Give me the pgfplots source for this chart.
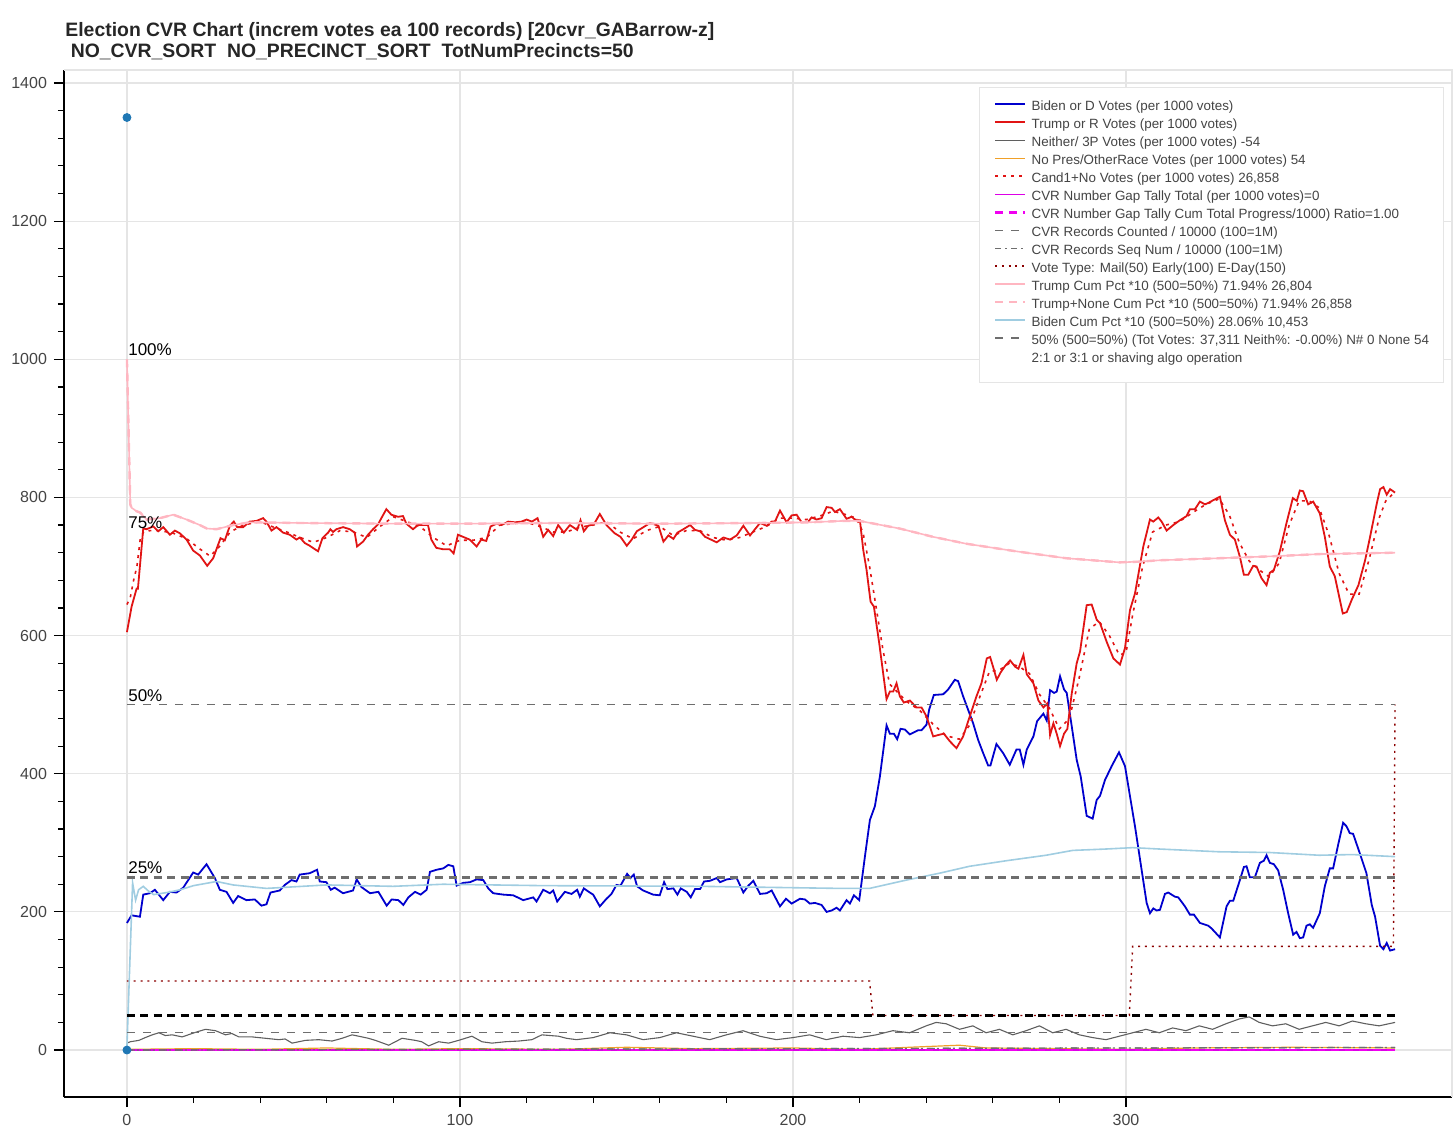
\documentclass[border=0pt]{standalone}
\usepackage{fontspec}
\setmainfont{Liberation Sans}
\usepackage{pgfplots}
\pgfplotsset{compat=1.18}
\definecolor{bidenblue}{RGB}{0,0,205}
\definecolor{trumpred}{RGB}{225,20,20}
\definecolor{cumpink}{RGB}{255,182,193}
\definecolor{cumblue}{RGB}{160,205,225}
\definecolor{neithergray}{RGB}{95,95,95}
\definecolor{norange}{RGB}{240,160,40}
\definecolor{gapmag}{RGB}{220,0,230}
\definecolor{gapmag2}{RGB}{240,0,240}
\definecolor{votered}{RGB}{139,0,0}
\definecolor{refgray}{RGB}{110,110,110}
\definecolor{gridgray}{RGB}{229,229,229}
\definecolor{labgray}{RGB}{68,68,68}
\definecolor{dotblue}{RGB}{31,119,180}
\begin{document}
\begin{tikzpicture}
\path[use as bounding box] (-32pt,-17pt) rectangle (696pt,548.5pt);
\begin{axis}[
 at={(0pt,0pt)}, anchor=south west,
 scale only axis, width=694pt, height=513.5pt,
 xmin=-18.9, xmax=397.9, ymin=-68, ymax=1418.8,
 axis x line*=bottom, axis y line*=left,
 xtick={0,100,200,300}, ytick={0,200,...,1400},
 minor x tick num=4, minor y tick num=4,
 tick align=outside, major tick length=5pt, minor tick length=3pt,
 xmajorgrids, ymajorgrids,
 major grid style={gridgray, line width=0.6pt},
 tick style={black, line width=0.6pt},
 axis line style={black, line width=0.7pt, -},
 ticklabel style={font=\fontsize{8}{9}\selectfont, text=labgray},
 /pgf/number format/assume math mode=true,
 /pgf/number format/1000 sep={},
 legend style={
  at={(axis description cs:0.99424,0.98345)}, anchor=north east,
  draw=gridgray, fill=white,
  font=\fontsize{6.7}{8}\selectfont, text=labgray,
  inner xsep=7.3pt, inner ysep=6.2pt,
  row sep=0pt, column sep=2.6pt,
  nodes={inner sep=0pt, text height=5.6pt, text depth=3.4pt},
 },
 legend cell align=left,
 legend image code/.code={\draw[#1] (0pt,2.3pt) -- (15pt,2.3pt);},
]
% 1 Biden
\addplot[bidenblue, line width=0.9pt] coordinates {
(0,184)(1.4,195)(3.9,193)(4.9,225)(6.9,227)(8.4,232)(10.9,217)(12.9,229)(14.9,228)(16.9,235)(19.9,257)(21.4,254)(23.9,269)(26.4,249)(27.9,232)(29.9,229)(31.9,213)(33.4,223)(35.9,217)(38.4,218)(40.4,209)(41.9,211)(43.1,228)(45.9,231)(47.4,239)(49.4,246)(50.9,244)(51.9,254)(54.9,256)(57.1,261)(57.9,244)(59.9,243)(61.2,232)(62.4,235)(64.9,227)(67.9,231)(69.0,247)(70.4,236)(73.0,227)(75.5,229)(78.0,209)(79.5,218)(81.5,217)(83.0,210)(84.5,221)(86.5,229)(88.2,225)(90.0,232)(91.0,258)(93.0,261)(95.0,263)(96.5,268)(98.0,266)(99.0,238)(101.0,242)(103.0,243)(105.0,247)(107.0,246)(108.5,234)(110.0,227)(113.0,225)(116.0,224)(119.0,217)(122.0,221)(123.0,215)(125.0,232)(127.0,227)(128.0,231)(129.2,215)(131.5,229)(133.5,226)(135.2,232)(136.0,222)(137.2,234)(139.0,228)(140.0,225)(142.0,208)(144.0,219)(145.5,226)(147.0,239)(148.2,238)(150.2,255)(151.2,249)(152.2,254)(153.2,237)(155.0,231)(156.5,228)(158.0,225)(160.0,224)(161.3,243)(162.3,233)(164.1,234)(165.3,225)(166.3,234)(168.1,229)(169.3,221)(170.6,233)(172.1,233)(173.3,244)(175.1,245)(177.1,249)(178.1,243)(180.1,247)(183.1,249)(185.1,228)(186.6,238)(188.1,245)(190.1,226)(192.1,227)(193.6,231)(196.1,208)(197.9,219)(199.6,212)(202.1,219)(203.6,218)(205.1,212)(206.6,213)(208.6,210)(210.1,200)(211.6,202)(213.1,206)(214.1,202)(216.1,217)(217.1,212)(218.3,224)(219.9,217)(221.6,280)(223.1,333)(224.6,353)(226.1,396)(228.1,470)(229.1,458)(230.3,458)(231.3,450)(232.3,465)(233.6,464)(235.1,457)(237.6,463)(238.6,463)(240.1,471)(240.9,493)(242.3,514)(245.1,515)(246.6,522)(248.6,536)(249.6,534)(251.1,512)(254.1,473)(255.6,449)(257.1,430)(258.6,412)(259.3,412)(261.1,443)(263.1,430)(265.1,413)(267.1,435)(268.1,435)(269.2,413)(270.2,435)(272.2,454)(273.3,476)(275.2,487)(276.2,477)(277.2,521)(278.4,517)(279.2,519)(280.2,541)(281.4,522)(282.2,517)(283.7,469)(285.2,420)(286.4,396)(288.2,339)(290.0,335)(291.2,362)(292.2,368)(293.7,391)(295.7,411)(297.9,431)(299.7,411)(302.7,324)(306.2,213)(307.2,198)(308.2,205)(309.2,202)(310.2,203)(311.7,226)(312.7,228)(314.7,222)(315.7,221)(317.7,208)(319.2,196)(320.4,196)(322.2,184)(324.7,180)(325.7,176)(328.2,163)(330.2,208)(331.2,216)(332.2,216)(334.2,246)(335.4,265)(336.2,266)(337.2,250)(338.7,250)(340.2,271)(341.4,274)(342.2,282)(343.2,271)(344.4,269)(345.7,260)(347.2,232)(348.7,198)(350.2,167)(351.2,171)(352.2,162)(353.2,163)(354.2,180)(355.2,182)(356.2,177)(358.2,198)(359.7,237)(361.2,263)(362.2,263)(363.7,297)(365.2,329)(366.2,324)(367.2,314)(368.2,313)(370.2,285)(372.2,256)(373.8,210)(374.8,193)(376.3,151)(377.3,146)(378.3,155)(379.3,144)(380.8,146)
};
\addlegendentry{Biden or D Votes (per 1000 votes)}
% 2 Trump
\addplot[trumpred, line width=0.9pt] coordinates {
(0,605)(1.4,642)(2.9,668)(3.3,668)(4.9,755)(5.9,754)(7.9,758)(9.4,751)(10.9,757)(12.9,746)(14.4,752)(15.9,748)(17.9,739)(19.9,723)(21.9,716)(24.1,701)(25.9,712)(28.1,741)(29.4,738)(30.9,759)(32.1,765)(33.1,757)(34.9,757)(36.9,765)(38.9,766)(40.9,770)(41.9,765)(43.4,752)(44.9,757)(46.9,749)(48.9,746)(50.9,739)(51.9,742)(53.4,734)(54.9,730)(57.4,722)(58.7,741)(60.4,749)(61.1,754)(61.9,750)(62.9,754)(64.9,757)(66.9,754)(68.4,749)(69.1,729)(70.9,736)(72.4,746)(73.9,754)(75.4,761)(76.4,770)(77.9,783)(79.4,775)(81.4,772)(82.9,773)(83.9,762)(85.9,754)(87.4,760)(88.9,760)(90.4,760)(91.4,739)(92.9,727)(94.9,725)(96.9,725)(98.1,719)(99.4,746)(100.9,743)(102.9,739)(105.0,729)(106.4,739)(107.9,737)(109.2,758)(111.0,762)(112.5,760)(114.5,765)(116.5,764)(118.5,765)(120.0,768)(121.6,765)(123.3,770)(125.0,743)(126.5,753)(128.0,744)(129.5,760)(131.2,749)(133.0,760)(135.2,753)(136.2,767)(137.2,751)(138.5,759)(140.2,761)(142.0,776)(144.0,760)(146.5,748)(148.2,743)(150.1,730)(151.6,739)(153.1,751)(155.1,757)(157.1,763)(159.6,759)(161.1,736)(162.6,745)(164.1,740)(165.3,749)(167.1,754)(169.1,760)(170.6,753)(172.1,751)(173.6,743)(177.1,735)(179.1,742)(181.1,739)(183.1,745)(185.1,759)(187.1,745)(188.1,751)(190.1,763)(192.1,759)(193.6,765)(194.6,765)(196.1,781)(198.1,764)(199.6,774)(201.1,775)(202.6,764)(204.6,765)(205.6,771)(207.1,768)(208.6,770)(210.1,786)(211.6,785)(212.6,779)(214.1,783)(216.1,769)(217.6,772)(218.6,768)(220.1,767)(221.1,724)(222.1,695)(223.3,649)(224.3,642)(225.9,589)(228.1,508)(229.1,519)(230.1,519)(231.1,531)(232.1,512)(233.3,503)(235.1,506)(237.1,496)(238.6,496)(240.1,483)(242.1,454)(243.6,456)(245.3,458)(247.1,447)(249.1,437)(251.1,454)(253.1,483)(255.1,512)(256.6,531)(258.2,567)(259.2,569)(260.2,553)(261.2,536)(262.4,547)(263.7,556)(265.2,564)(266.7,555)(267.7,552)(269.2,572)(270.2,544)(272.2,531)(273.7,506)(275.2,496)(276.4,502)(277.2,456)(278.2,473)(279.2,458)(280.2,440)(281.4,458)(282.4,465)(283.7,516)(285.2,560)(286.2,577)(288.2,644)(289.7,645)(291.2,623)(292.2,618)(294.2,591)(296.2,567)(298.2,558)(299.7,582)(301.2,637)(302.7,661)(305.2,729)(307.2,768)(308.2,765)(309.7,771)(310.7,765)(312.2,752)(314.2,760)(316.2,767)(318.2,773)(319.2,783)(320.7,783)(322.2,794)(323.7,790)(324.7,792)(326.2,796)(328.2,801)(329.7,767)(331.2,746)(332.7,739)(334.2,714)(335.4,688)(336.7,688)(338.2,701)(339.2,700)(340.7,683)(342.2,673)(343.2,691)(344.4,695)(346.2,722)(348.2,763)(350.1,799)(351.3,795)(352.2,810)(353.2,809)(354.7,790)(356.2,794)(358.2,777)(359.7,743)(361.2,700)(362.7,686)(365.1,632)(366.3,634)(367.8,652)(369.8,673)(371.8,709)(373.3,743)(375.3,791)(376.3,812)(377.3,815)(378.3,804)(379.3,812)(380.8,807)
};
\addlegendentry{Trump or R Votes (per 1000 votes)}
% 3 Neither
\addplot[neithergray, line width=0.55pt] coordinates {
(0,10)(1,12)(3.6,14)(5.5,18)(7.6,22)(9.6,25)(11.5,21)(13.6,22)(16.6,19)(19.6,24)(21.5,27)(23.6,30)(26.6,28)(29.6,22)(31.5,24)(33.6,19)(37.6,19)(41.6,17)(45.6,15)(47.5,16)(49.6,10)(53.6,14)(57.6,15)(61.6,13)(64.6,17)(67.6,22)(70.6,19)(72.5,17)(74.6,14)(78.6,7)(82.6,17)(86.6,14)(88.5,12)(90.6,6)(93.6,12)(96.6,10)(99.6,14)(103.6,20)(106.6,12)(109.6,10)(113.6,12)(117.6,13)(121.6,15)(124.6,22)(129.6,20)(132,17)(135,15)(140,18)(145,25)(150,22)(155,15)(160,18)(165,25)(170,20)(175,15)(180,22)(185,28)(190,20)(195,15)(200,18)(205,22)(210,15)(215,20)(220,18)(225,22)(230,28)(235,25)(240,35)(243,40)(246,38)(250,30)(254,35)(258,25)(262,30)(266,22)(270,28)(274,35)(278,25)(282,30)(286,22)(290,18)(294,15)(298,20)(302,25)(306,30)(310,25)(314,32)(318,28)(322,35)(326,30)(330,38)(334,45)(337,48)(340,40)(344,35)(348,38)(352,30)(356,35)(360,40)(364,35)(368,42)(372,38)(376,35)(380.8,40)
};
\addlegendentry{Neither/ 3P Votes (per 1000 votes) -54}
% 4 No Pres
\addplot[norange, line width=0.6pt] coordinates {
(0,1)(20,2)(40,1)(60,3)(80,1)(100,2)(130,1)(150,4)(170,2)(200,3)(220,1)(240,5)(250,7)(258,3)(280,2)(300,1)(320,3)(350,4)(380.8,3)
};
\addlegendentry{No Pres/OtherRace Votes (per 1000 votes) 54}
% 5 Cand1+No
\addplot[trumpred, line width=0.8pt, dash pattern=on 1.5pt off 2.5pt] coordinates {
(0,645)(1,655)(2,680)(3,700)(4,740)(5,750)(7,752)(10,752)(14,748)(18,740)(22,725)(25,715)(28,730)(31,750)(35,760)(40,765)(44,757)(48,750)(52,742)(56,735)(60,742)(64,752)(68,750)(72,742)(76,758)(80,772)(84,765)(88,758)(92,742)(96,730)(100,738)(104,738)(108,742)(112,760)(116,762)(120,764)(124,758)(128,750)(132,750)(136,757)(140,760)(144,765)(148,750)(152,740)(156,752)(160,758)(164,745)(168,752)(172,752)(176,742)(180,738)(184,742)(188,750)(192,758)(196,770)(200,770)(204,768)(208,773)(212,780)(216,775)(219,770)(221,750)(223,700)(225,640)(227,580)(229,530)(231,520)(234,505)(238,492)(242,472)(246,455)(250,450)(253,470)(256,510)(259,548)(262,550)(265,560)(268,555)(271,545)(274,515)(277,495)(280,465)(283,480)(286,540)(289,610)(292,620)(295,600)(298,572)(300,575)(302,630)(305,700)(308,750)(312,760)(316,765)(320,778)(324,790)(328,798)(331,775)(334,735)(337,708)(340,695)(343,685)(346,705)(349,760)(352,795)(355,795)(358,785)(361,745)(364,690)(367,660)(370,660)(373,710)(376,770)(378,795)(380.8,808)
};
\addlegendentry{Cand1+No Votes (per 1000 votes) 26,858}
% 6 gap tally total
\addplot[gapmag, line width=0.6pt] coordinates {(0,0)(380.8,0)};
\addlegendentry{CVR Number Gap Tally Total (per 1000 votes)=0}
% 7 gap cum
\addplot[gapmag2, line width=1.4pt, dash pattern=on 4pt off 3pt] coordinates {(0,0)(100,0)(200,0)(300,0)(380.8,0)};
\addlegendentry{CVR Number Gap Tally Cum Total Progress/1000) Ratio=1.00}
% 8 records counted
\addplot[refgray, line width=0.6pt, dash pattern=on 4pt off 4pt] coordinates {(0,0)(100,1)(200,2)(300,3)(380.8,3.7)};
\addlegendentry{CVR Records Counted / 10000 (100=1M)}
% 9 seq num
\addplot[refgray, line width=0.6pt, dash pattern=on 3pt off 2pt on 1pt off 2pt] coordinates {(0,0)(100,1)(200,2)(300,3)(380.8,3.7)};
\addlegendentry{CVR Records Seq Num / 10000 (100=1M)}
% 10 vote type
\addplot[votered, line width=0.7pt, dash pattern=on 1pt off 2.4pt] coordinates {(0,100)(223,100)(224,50)(301,50)(302,150)(380.3,150)(380.8,500)};
\addlegendentry{Vote Type: Mail(50) Early(100) E-Day(150)}
% 11 Trump cum
\addplot[cumpink, line width=0.8pt] coordinates {
(0,1000)(1,790)(1.4,785)(2.9,780)(4,778)(5.9,768)(9.9,770)(13.9,775)(17.9,768)(21.9,760)(24,755)(26.9,754)(31.9,760)(36.9,764)(51.9,763)(80,762)(102,762)(130,763)(160,762)(190,763)(205,764)(215,766)(220,766)(232,755)(242,743)(252,733)(267,722)(282,712)(290,709)(298,706)(304,707)(310,709)(328,712)(345,715)(358,718)(380.8,720)
};
\addlegendentry{Trump Cum Pct *10 (500=50\%) 71.94\% 26,804}
% 12 Trump+None cum
\addplot[cumpink, line width=1.2pt, dash pattern=on 4pt off 3pt] coordinates {
(0,1000)(1,790)(1.4,785)(2.9,780)(4,778)(5.9,768)(9.9,770)(13.9,775)(17.9,768)(21.9,760)(24,755)(26.9,754)(31.9,760)(36.9,764)(51.9,763)(80,762)(102,762)(130,763)(160,762)(190,763)(205,764)(215,766)(220,766)(232,755)(242,743)(252,733)(267,722)(282,712)(290,709)(298,706)(304,707)(310,709)(328,712)(345,715)(358,718)(380.8,720)
};
\addlegendentry{Trump+None Cum Pct *10 (500=50\%) 71.94\% 26,858}
% 13 Biden cum
\addplot[cumblue, line width=0.8pt] coordinates {
(0,5)(1.7,242)(2.6,217)(3.5,232)(4.9,237)(6.5,230)(8,225)(12,228)(16,232)(20,238)(26.9,244)(31.9,239)(41.9,234)(59.9,239)(79.9,237)(94.9,240)(124.9,238)(172,237)(214,234)(223,234)(234,246)(244,256)(253,266)(264,274)(276,282)(284,289)(294,291)(302,293)(310,291)(328,287)(343,286)(358,282)(368,283)(380.8,280)
};
\addlegendentry{Biden Cum Pct *10 (500=50\%) 28.06\% 10,453}
% 14 50% line
\addplot[refgray, line width=0.7pt, dash pattern=on 4pt off 4pt] coordinates {(0,500)(380.8,500)};
\addlegendentry{50\% (500=50\%) (Tot Votes: 37,311 Neith\%: -0.00\%) N\# 0 None 54}
% 15
\addlegendimage{empty legend}
\addlegendentry{2:1 or 3:1 or shaving algo operation}
% reference lines
\addplot[refgray, line width=1.4pt, dash pattern=on 4pt off 2.7pt, forget plot] coordinates {(0,250)(380.8,250)};
\addplot[black, line width=1.1pt, dash pattern=on 4pt off 2.7pt, forget plot] coordinates {(0,50)(380.8,50)};
\addplot[refgray, line width=0.6pt, dash pattern=on 4pt off 4pt, forget plot] coordinates {(0,25)(380.8,25)};
\addplot[only marks, mark=*, mark size=2pt, dotblue, forget plot] coordinates {(0,1350)(0,0)};
\node[anchor=base west, inner sep=0pt, xshift=0.5pt, yshift=1.7pt, font=\fontsize{8.5}{10}\selectfont] at (axis cs:0,1000) {100\%};
\node[anchor=base west, inner sep=0pt, xshift=0.5pt, yshift=1.7pt, font=\fontsize{8.5}{10}\selectfont] at (axis cs:0,750) {75\%};
\node[anchor=base west, inner sep=0pt, xshift=0.5pt, yshift=1.7pt, font=\fontsize{8.5}{10}\selectfont] at (axis cs:0,500) {50\%};
\node[anchor=base west, inner sep=0pt, xshift=0.5pt, yshift=1.7pt, font=\fontsize{8.5}{10}\selectfont] at (axis cs:0,250) {25\%};
\end{axis}
\draw[gridgray, line width=0.6pt] (0pt,513.5pt) -- (694pt,513.5pt) -- (694pt,0pt);
\node[anchor=base west, inner sep=0pt, font=\bfseries\fontsize{9.7}{11}\selectfont, text=black!85] at (0.5pt,530.25pt) {Election CVR Chart (increm votes ea 100 records) [20cvr\_GABarrow-z]};
\node[anchor=base west, inner sep=0pt, font=\bfseries\fontsize{9.7}{11}\selectfont, text=black!85] at (0.5pt,519.5pt) {\ NO\_CVR\_SORT\ \ NO\_PRECINCT\_SORT\ \ TotNumPrecincts=50};
\end{tikzpicture}
\end{document}
